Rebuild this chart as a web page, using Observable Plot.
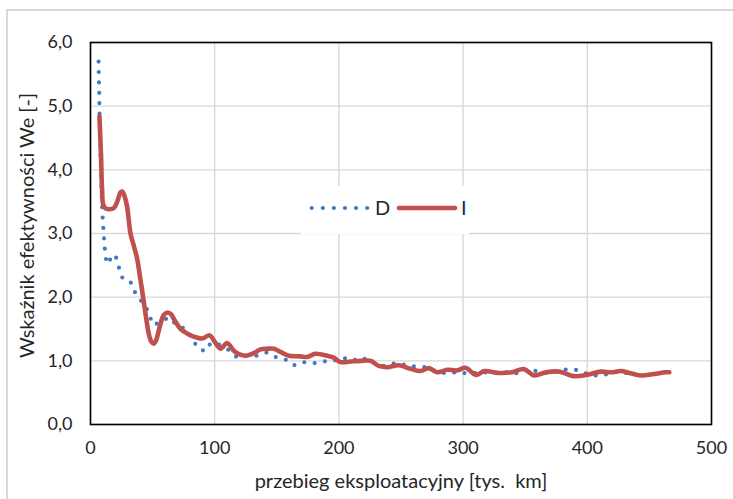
<!DOCTYPE html>
<html>
<head>
<meta charset="utf-8">
<script src="https://cdn.jsdelivr.net/npm/d3@7"></script>
<script src="https://cdn.jsdelivr.net/npm/@observablehq/plot@0.6"></script>
<style>
  html, body { margin: 0; padding: 0; background: #fff; }
  #wrap { position: relative; width: 733px; height: 499px; overflow: hidden; background: #fff; font-family: Lato, "Open Sans", sans-serif; }
  #border { position: absolute; left: 6px; top: 9px; width: 800px; height: 600px; border: 2px solid #d9d9d9; pointer-events: none; }
  #legend { position: absolute; left: 301px; top: 186px; width: 168px; height: 48px; background: #fff; }
</style>
</head>
<body>
<div id="wrap"><div id="border"></div></div>
<script>
// ---- data ----
const seriesNames = ["D", "I"];
const xTicks = [0, 100, 200, 300, 400, 500];
const yTicks = [0, 1, 2, 3, 4, 5, 6];
const yTickLabels = ["0,0", "1,0", "2,0", "3,0", "4,0", "5,0", "6,0"];
const xTitle = "przebieg eksploatacyjny [tys.  km]";
const yTitle = "Wskaźnik efektywności We [-]";

// series D (blue, dotted)
const dX = [6.5, 7, 7.5, 8, 8.7, 9.8, 11.3, 12.5, 14, 16, 18, 20.5, 22.8, 25.5, 29, 32, 35, 39.7, 45, 47.5, 51, 57.7, 63, 69.8, 76.5, 81.9, 85.3, 91.8, 97, 104.7, 111.4, 117.5, 126.2, 134.2, 141.7, 149, 157, 163.7, 171.2, 179.3, 187.3, 195.9, 203.4, 210.7, 218.2, 225.4, 233.5, 241, 248.5, 256.3, 264.3, 271.1, 279, 286.4, 294.4, 302.5, 320, 336.6, 345.3, 353, 361.3, 370.1, 377.9, 386.7, 394.5, 402.2, 410.4, 418.7, 427, 434.4];
const dY = [5.7, 5.2, 4.7, 4.25, 3.75, 3.25, 2.8, 2.6, 2.52, 2.6, 2.67, 2.63, 2.47, 2.31, 2.28, 2.25, 2.1, 1.97, 1.84, 1.7, 1.56, 1.63, 1.68, 1.555, 1.5, 1.37, 1.225, 1.15, 1.28, 1.25, 1.17, 1.06, 1.08, 1.08, 1.13, 1.06, 1.02, 0.93, 0.98, 0.96, 0.99, 1.0, 1.05, 1.0, 1.05, 1.0, 0.91, 0.95, 0.965, 0.915, 0.91, 0.9, 0.82, 0.805, 0.82, 0.805, 0.82, 0.82, 0.8, 0.88, 0.82, 0.8, 0.855, 0.87, 0.845, 0.77, 0.77, 0.8, 0.845, 0.78];

// series I (red, smooth)
const iX = [7.2, 8.5, 9.3, 10.3, 12.5, 15, 18.8, 21.5, 24, 25.5, 27.5, 29.5, 32.2, 35, 37.6, 40, 41.6, 44.3, 47, 49, 51, 53, 55, 59, 62.2, 65, 67, 72.5, 76, 80.5, 85, 89.9, 96, 100, 104.7, 110, 115.4, 120, 124.8, 131.5, 136.9, 142, 147.6, 153, 159.7, 169, 174.5, 181, 190.6, 195.9, 201.3, 209.3, 217.4, 225.4, 232.1, 238.9, 248.2, 257.6, 265.7, 272.4, 279.1, 287.2, 295.2, 302, 310.3, 317.2, 328.3, 339.3, 349, 357.2, 366.8, 377.9, 388.9, 399.9, 410.9, 419.2, 427.5, 435.8, 444, 452.3, 463.3, 466];
const iY = [4.84, 4.2, 3.7, 3.45, 3.39, 3.38, 3.4, 3.5, 3.64, 3.66, 3.58, 3.42, 3.0, 2.8, 2.6, 2.3, 2.1, 1.74, 1.42, 1.3, 1.27, 1.33, 1.48, 1.72, 1.76, 1.73, 1.66, 1.5, 1.45, 1.4, 1.37, 1.35, 1.4, 1.3, 1.19, 1.28, 1.16, 1.1, 1.08, 1.12, 1.18, 1.19, 1.19, 1.14, 1.08, 1.07, 1.06, 1.11, 1.08, 1.05, 0.98, 0.99, 1.0, 1.0, 0.92, 0.9, 0.93, 0.875, 0.84, 0.885, 0.82, 0.86, 0.85, 0.89, 0.78, 0.84, 0.81, 0.82, 0.87, 0.77, 0.82, 0.83, 0.76, 0.78, 0.83, 0.82, 0.84, 0.8, 0.77, 0.79, 0.82, 0.82];

const colors = ["#3F7BC1", "#C0504D"];

const dData = dX.map((x, i) => ({x, y: dY[i]}));
const iData = iX.map((x, i) => ({x, y: iY[i]}));

const textColor = "#262626";

const chart = Plot.plot({
  width: 733,
  height: 499,
  marginLeft: 90,
  marginRight: 22,
  marginTop: 42,
  marginBottom: 75,
  style: {fontFamily: "Lato, 'Open Sans', sans-serif", color: textColor, background: "transparent"},
  x: {domain: [0, 500]},
  y: {domain: [0, 6]},
  marks: [
    Plot.gridX(xTicks, {stroke: "#d9d9d9", strokeOpacity: 1, strokeWidth: 1.4}),
    Plot.gridY(yTicks, {stroke: "#d9d9d9", strokeOpacity: 1, strokeWidth: 1.4}),
    Plot.axisX({ticks: xTicks, tickSize: 0, tickPadding: 17, fontSize: 18, label: null, fill: textColor}),
    Plot.axisY({ticks: yTicks, tickSize: 0, tickPadding: 18, fontSize: 18, label: null, fill: textColor,
      tickFormat: (d) => yTickLabels[yTicks.indexOf(d)]}),
    Plot.text([xTitle], {frameAnchor: "bottom", dy: 63, fontSize: 20, fill: textColor}),
    Plot.text([yTitle], {frameAnchor: "left", textAnchor: "middle", dx: -63, dy: -8, rotate: -90, fontSize: 20, fill: textColor}),
    Plot.line(dData, {x: "x", y: "y", stroke: colors[0], strokeWidth: 4.2, strokeDasharray: "0,10.4", strokeLinecap: "round", strokeLinejoin: "round"}),
    Plot.line(iData, {x: "x", y: "y", stroke: colors[1], strokeWidth: 4.6, curve: "catmull-rom", strokeLinecap: "round", strokeLinejoin: "round"}),
    Plot.frame({stroke: "#000", strokeWidth: 1.6})
  ]
});
chart.style.position = "absolute";
chart.style.left = "0px";
chart.style.top = "0px";
const wrap = document.getElementById("wrap");
wrap.insertBefore(chart, wrap.firstChild);

// legend (inside the plot area, white box)
const legend = document.createElement("div");
legend.id = "legend";
const ns = "http://www.w3.org/2000/svg";
const lsvg = document.createElementNS(ns, "svg");
lsvg.setAttribute("width", 168);
lsvg.setAttribute("height", 48);
const cy = 22;
// D sample: dotted
const dl = document.createElementNS(ns, "line");
dl.setAttribute("x1", 10.7); dl.setAttribute("x2", 66.3);
dl.setAttribute("y1", cy); dl.setAttribute("y2", cy);
dl.setAttribute("stroke", colors[0]); dl.setAttribute("stroke-width", 4.2);
dl.setAttribute("stroke-linecap", "round"); dl.setAttribute("stroke-dasharray", "0,11.1");
lsvg.appendChild(dl);
const dt = document.createElementNS(ns, "text");
dt.setAttribute("x", 74); dt.setAttribute("y", cy); dt.setAttribute("dy", "0.35em");
dt.setAttribute("font-size", 20); dt.setAttribute("fill", textColor);
dt.setAttribute("font-family", "Lato, 'Open Sans', sans-serif");
dt.textContent = seriesNames[0];
lsvg.appendChild(dt);
const il = document.createElementNS(ns, "line");
il.setAttribute("x1", 98); il.setAttribute("x2", 154);
il.setAttribute("y1", cy); il.setAttribute("y2", cy);
il.setAttribute("stroke", colors[1]); il.setAttribute("stroke-width", 4.6);
il.setAttribute("stroke-linecap", "round");
lsvg.appendChild(il);
const it = document.createElementNS(ns, "text");
it.setAttribute("x", 160); it.setAttribute("y", cy); it.setAttribute("dy", "0.35em");
it.setAttribute("font-size", 20); it.setAttribute("fill", textColor);
it.setAttribute("font-family", "Lato, 'Open Sans', sans-serif");
it.textContent = seriesNames[1];
lsvg.appendChild(it);
legend.appendChild(lsvg);
wrap.appendChild(legend);
// keep border on top
wrap.appendChild(document.getElementById("border"));
</script>
</body>
</html>
